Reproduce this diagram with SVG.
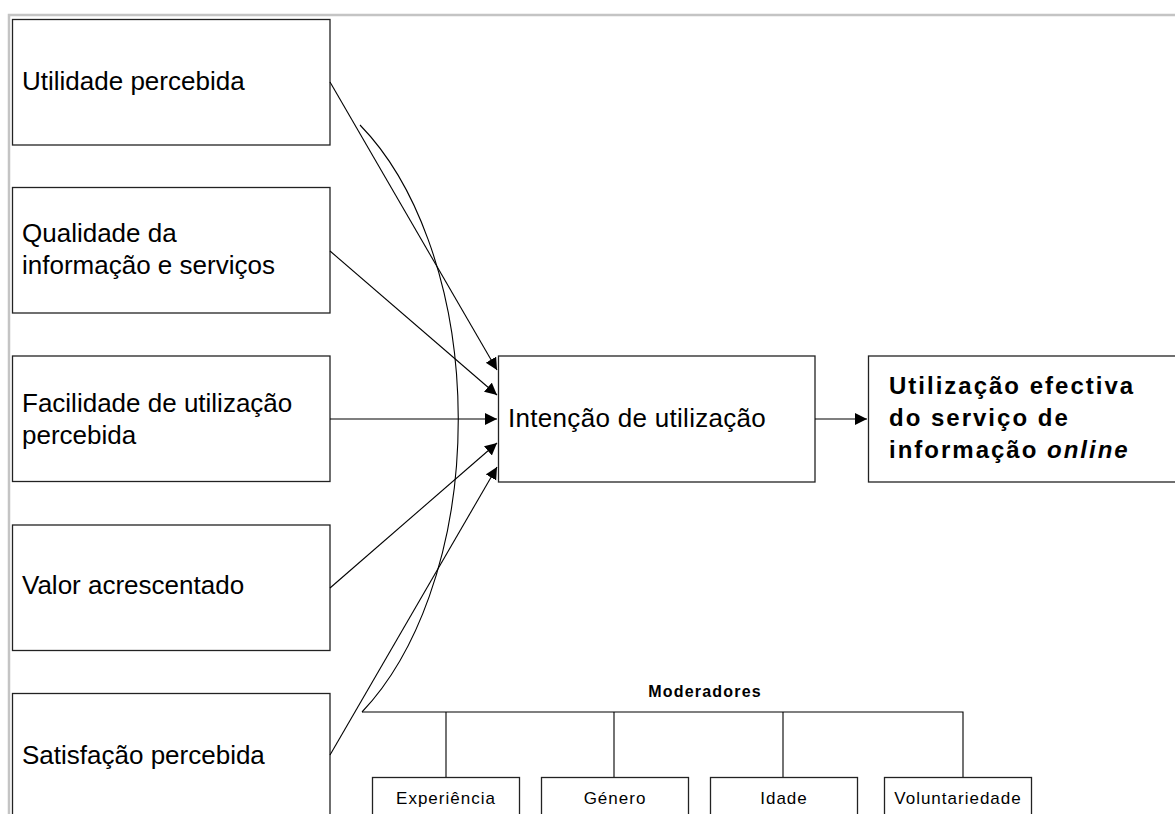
<svg xmlns="http://www.w3.org/2000/svg" width="1175" height="814" viewBox="0 0 1175 814">
<defs>
<style>
.box{fill:#fff;stroke:#222;stroke-width:1.3}
.lbl{font-family:"Liberation Sans",Arial,sans-serif;font-size:26px;fill:#000}
.blbl{font-family:"Liberation Sans",Arial,sans-serif;font-size:24px;font-weight:bold;letter-spacing:2px;fill:#000}
.sm{font-family:"Liberation Sans",Arial,sans-serif;font-size:17px;letter-spacing:1px;fill:#000;text-anchor:middle}
.edge{fill:none;stroke:#000;stroke-width:1.1}
.frame{fill:none;stroke:#c4c4c4;stroke-width:2.5}
</style>
<marker id="arr" markerUnits="userSpaceOnUse" markerWidth="14" markerHeight="14" refX="12" refY="6" orient="auto">
<path d="M0,0 L12,6 L0,12 Z" fill="#000"/>
</marker>
</defs>
<rect width="1175" height="814" fill="#fff"/>
<path class="frame" d="M9,814 V15 H1175"/>

<g id="n-utilidade"><rect class="box" x="12.5" y="19.5" width="317.5" height="125.5"/><text class="lbl" x="22" y="90">Utilidade percebida</text></g>
<g id="n-qualidade"><rect class="box" x="12.5" y="187.5" width="317.5" height="125.5"/><text class="lbl" x="22" y="242">Qualidade da</text><text class="lbl" x="22" y="274">informação e serviços</text></g>
<g id="n-facilidade"><rect class="box" x="12.5" y="356" width="317.5" height="125.5"/><text class="lbl" x="22" y="412">Facilidade de utilização</text><text class="lbl" x="22" y="444">percebida</text></g>
<g id="n-valor"><rect class="box" x="12.5" y="525" width="317.5" height="125.5"/><text class="lbl" x="22" y="594">Valor acrescentado</text></g>
<g id="n-satisfacao"><rect class="box" x="12.5" y="693.5" width="317.5" height="125.5"/><text class="lbl" x="22" y="764">Satisfação percebida</text></g>
<g id="n-intencao"><rect class="box" x="498.5" y="356" width="316.5" height="126"/><text class="lbl" x="508" y="427" letter-spacing="0.3">Intenção de utilização</text></g>
<g id="n-utilizacao"><rect class="box" x="868.5" y="356" width="320" height="126"/><text class="blbl" x="889" y="394">Utilização efectiva</text><text class="blbl" x="889" y="426">do serviço de</text><text class="blbl" x="889" y="458">informação <tspan font-style="italic">online</tspan></text></g>
<g id="n-moderadores"><text x="705" y="697" font-family="Liberation Sans,Arial,sans-serif" font-size="16" font-weight="bold" letter-spacing="1.2" text-anchor="middle">Moderadores</text></g>
<g id="n-experiencia"><rect class="box" x="372.5" y="777.5" width="147" height="50"/><text class="sm" x="446" y="804">Experiência</text></g>
<g id="n-genero"><rect class="box" x="541.5" y="777.5" width="147" height="50"/><text class="sm" x="615" y="804">Género</text></g>
<g id="n-idade"><rect class="box" x="710.5" y="777.5" width="147" height="50"/><text class="sm" x="784" y="804">Idade</text></g>
<g id="n-voluntariedade"><rect class="box" x="884.5" y="777.5" width="147" height="50"/><text class="sm" x="958" y="804">Voluntariedade</text></g>

<g id="connectors">
<line class="edge" x1="330" y1="82" x2="497" y2="370" marker-end="url(#arr)"/>
<line class="edge" x1="330" y1="251" x2="497" y2="395" marker-end="url(#arr)"/>
<line class="edge" x1="330" y1="419" x2="497" y2="419" marker-end="url(#arr)"/>
<line class="edge" x1="330" y1="588" x2="497" y2="443" marker-end="url(#arr)"/>
<line class="edge" x1="330" y1="755" x2="497" y2="467" marker-end="url(#arr)"/>
<line class="edge" x1="815" y1="419" x2="867" y2="419" marker-end="url(#arr)"/>
<path class="edge" d="M360,125 A205,345 0 0 1 362,712"/>
<path class="edge" d="M362,712 H963 V777"/>
<line class="edge" x1="446" y1="712" x2="446" y2="777"/>
<line class="edge" x1="614" y1="712" x2="614" y2="777"/>
<line class="edge" x1="783" y1="712" x2="783" y2="777"/>
</g>
</svg>
